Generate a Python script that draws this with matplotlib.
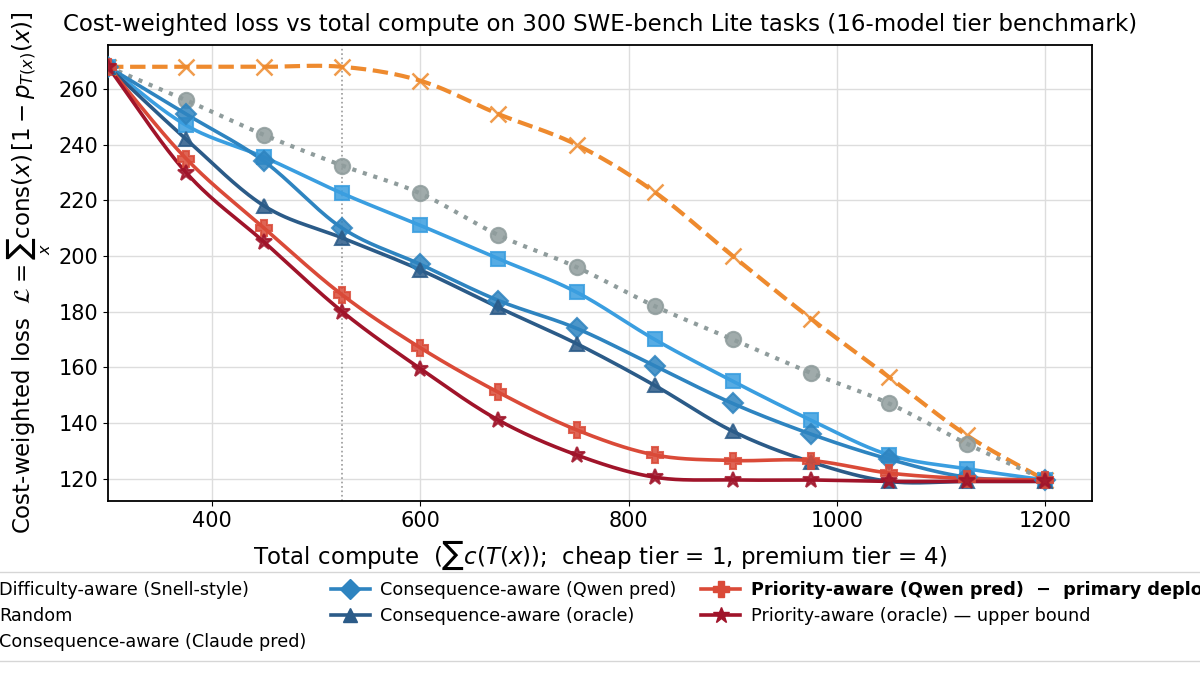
import numpy as np
import matplotlib
matplotlib.use("Agg")
import matplotlib.pyplot as plt

# compute budget (x) and cost-weighted loss for each routing policy
compute = [300, 375, 450, 525, 600, 675, 750, 825, 900, 975, 1050, 1125, 1200]

difficulty = [268, 268, 268, 268, 263, 251, 240, 223, 200, 177.5, 156.5, 135.5, 119.5]
random_pol = [268, 256, 243.5, 232.5, 222.5, 207.5, 196, 182, 170, 158, 147, 132.5, 119.5]
cons_claude = [268, 247, 235.5, 222.5, 211, 199, 187, 170, 155, 141, 128.5, 123.5, 119.5]
cons_qwen = [268, 251, 234, 210, 197, 184, 174, 160.5, 147, 136, 127, 120.5, 119.5]
cons_oracle = [268, 242, 218, 206.5, 195, 181.5, 168.5, 153.5, 137, 126, 119, 119, 119]
prio_qwen = [268, 235, 210, 186, 167, 151, 137.5, 128.5, 126.5, 126.5, 122, 120, 119.5]
prio_oracle = [268, 230, 205, 180, 159.5, 141, 128.5, 120.5, 119.5, 119.5, 119, 119, 119]

labels = ["Difficulty-aware (Snell-style)", "Random", "Consequence-aware (Claude pred)",
          "Consequence-aware (Qwen pred)", "Consequence-aware (oracle)",
          "Priority-aware (Qwen pred)  \u2212  primary deployment",
          "Priority-aware (oracle) \u2014 upper bound"]
series = [difficulty, random_pol, cons_claude, cons_qwen, cons_oracle, prio_qwen, prio_oracle]
colors = ["#ee8a2e", "#8f9c9c", "#3a9ee0", "#2e84c0", "#2b5b88", "#da4a38", "#a0142a"]
markers = ["x", "o", "s", "D", "^", "P", "*"]
styles = ["--", ":", "-", "-", "-", "-", "-"]
msizes = [11, 11, 10, 10, 10, 11, 12]


def smooth(x, y, n=30):
    # catmull-rom curve through the points, only for drawing the line
    x = np.asarray(x, float)
    y = np.asarray(y, float)
    px = np.concatenate([[2 * x[0] - x[1]], x, [2 * x[-1] - x[-2]]])
    py = np.concatenate([[2 * y[0] - y[1]], y, [2 * y[-1] - y[-2]]])
    xs, ys = [], []
    t = np.linspace(0, 1, n, endpoint=False)
    for i in range(1, len(px) - 2):
        for p, out in ((px, xs), (py, ys)):
            p0, p1, p2, p3 = p[i - 1], p[i], p[i + 1], p[i + 2]
            out.append(0.5 * (2 * p1 + (-p0 + p2) * t + (2 * p0 - 5 * p1 + 4 * p2 - p3) * t ** 2
                              + (-p0 + 3 * p1 - 3 * p2 + p3) * t ** 3))
    xs.append([x[-1]])
    ys.append([y[-1]])
    return np.concatenate(xs), np.concatenate(ys)


fig = plt.figure(figsize=(12, 6.75), dpi=100)
ax = fig.add_axes([0.09, 0.258, 0.82, 0.676])

ax.axvline(525, color="#999999", linestyle=":", linewidth=1.2, zorder=1)

handles = []
for y, c, m, ls, ms, lab in zip(series, colors, markers, styles, msizes, labels):
    sx, sy = smooth(compute, y)
    lw = 2.6 if ls == "-" else 3
    ax.plot(sx, sy, color=c, linestyle=ls, linewidth=lw, zorder=2)
    ax.plot(compute, y, linestyle="none", marker=m, color=c, markersize=ms,
            markeredgewidth=1.5 if m != "x" else 1.8, alpha=0.85, zorder=3)
    h, = ax.plot([], [], color=c, linestyle=ls, linewidth=lw, marker=m, markersize=ms)
    handles.append(h)

ax.set_xlim(300, 1245)
ax.set_ylim(112, 276)
ax.set_xticks([400, 600, 800, 1000, 1200])
ax.set_yticks(range(120, 261, 20))
ax.grid(True, color="#dddddd", linewidth=1)
ax.set_axisbelow(True)
ax.tick_params(labelsize=15)
for s in ax.spines.values():
    s.set_linewidth(1.3)

ax.set_title("Cost-weighted loss vs total compute on 300 SWE-bench Lite tasks (16-model tier benchmark)",
             fontsize=16.5, pad=10)
ax.set_xlabel(r"Total compute  ($\sum c(T(x))$;  cheap tier = 1, premium tier = 4)",
              fontsize=16.5, labelpad=6)
ax.set_ylabel(r"Cost-weighted loss  $\mathcal{L} = \sum_x \mathrm{cons}(x)\,[1 - p_{T(x)}(x)]$",
              fontsize=16.5)

leg = fig.legend(handles, labels, loc="upper left", bbox_to_anchor=(-0.05, 0.153),
                 ncol=3, fontsize=12.7, frameon=True, borderaxespad=0, borderpad=0.55,
                 handlelength=2.2, handletextpad=0.6, columnspacing=1.4, labelspacing=0.45)
leg.get_texts()[5].set_fontweight("bold")

fig.savefig("out.png", dpi=100)
